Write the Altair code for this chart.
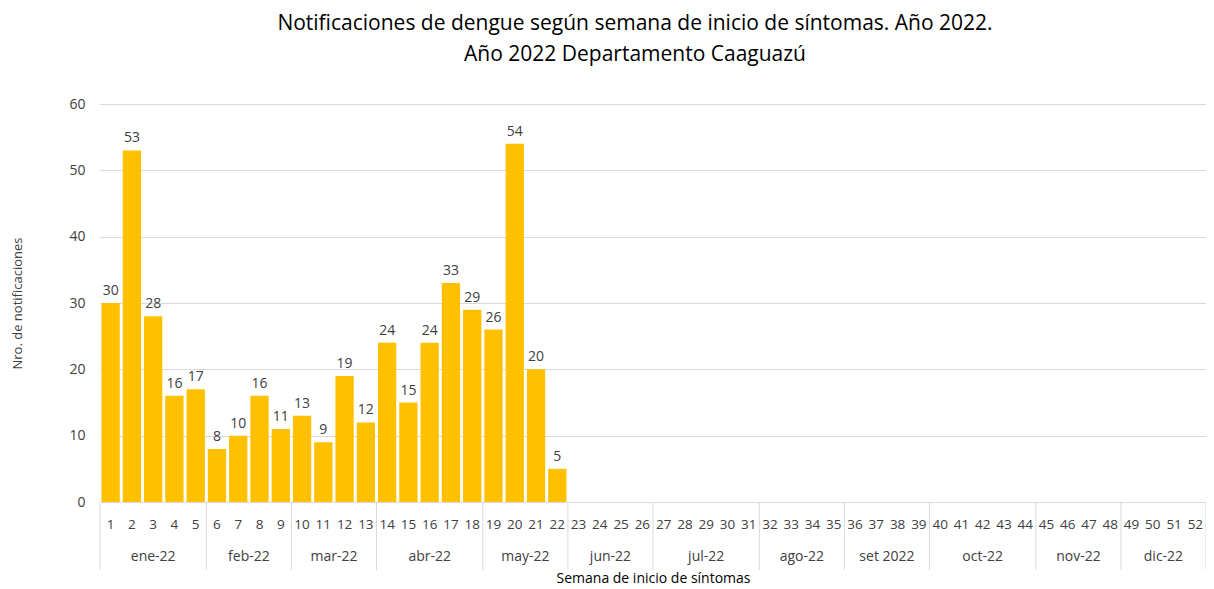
import altair as alt
import pandas as pd

weeks = list(range(1, 53))
cases = [30, 53, 28, 16, 17, 8, 10, 16, 11, 13, 9, 19, 12, 24, 15, 24, 33, 29, 26, 54, 20, 5]
months = ["ene-22", "feb-22", "mar-22", "abr-22", "may-22", "jun-22", "jul-22",
          "ago-22", "set 2022", "oct-22", "nov-22", "dic-22"]
month_first = [1, 6, 10, 14, 19, 23, 27, 32, 36, 40, 45, 49]
month_last = [5, 9, 13, 18, 22, 26, 31, 35, 39, 44, 48, 52]

W, H = 1106, 398
FONT = "Open Sans"

bars_df = pd.DataFrame({"semana": weeks[:len(cases)], "casos": cases})
weeks_df = pd.DataFrame({"semana": weeks})
month_df = pd.DataFrame({"mes": months, "ini": month_first, "fin": month_last})
sep_vals = [f - 0.5 for f in month_first] + [month_last[-1] + 0.5]
sep_df = pd.DataFrame({"sep": sep_vals})

xscale = alt.Scale(domain=[0.5, 52.5], nice=False, zero=False)
yscale = alt.Scale(domain=[0, 60])

x_axis = alt.Axis(labels=False, grid=False, ticks=False, domainColor="#d9d9d9",
                  title="Semana de inicio de síntomas", titleFont=FONT,
                  titleFontSize=14, titleFontWeight="normal", titleColor="#000000",
                  titleY=76, titleBaseline="middle")
y_axis = alt.Axis(values=[0, 10, 20, 30, 40, 50, 60], grid=True, gridColor="#d9d9d9",
                  domain=False, ticks=False, labelFont=FONT, labelFontSize=14,
                  labelColor="#404040", labelPadding=15,
                  title="Nro. de notificaciones", titleFont=FONT, titleFontSize=13,
                  titleFontWeight="normal", titleColor="#404040",
                  titleX=-83, titleY=H / 2, titleBaseline="middle")

base = alt.Chart(bars_df)

bars = base.transform_calculate(
    x0="datum.semana - 0.43", x1="datum.semana + 0.43"
).mark_bar(color="#FFC000").encode(
    x=alt.X("x0:Q", scale=xscale, axis=x_axis),
    x2="x1:Q",
    y=alt.Y("casos:Q", scale=yscale, axis=y_axis),
    y2=alt.datum(0),
)

labels = base.mark_text(font=FONT, fontSize=14, color="#404040", baseline="bottom", dy=-5).encode(
    x=alt.X("semana:Q", scale=xscale, axis=x_axis),
    y=alt.Y("casos:Q", scale=yscale, axis=y_axis),
    text=alt.Text("casos:Q", format="d"),
)

week_text = alt.Chart(weeks_df).mark_text(font=FONT, fontSize=13.5, color="#404040",
                                          baseline="middle").encode(
    x=alt.X("semana:Q", scale=xscale, axis=x_axis),
    y=alt.value(H + 23),
    text=alt.Text("semana:Q", format="d"),
)

seps = alt.Chart(sep_df).mark_rule(color="#d9d9d9", strokeWidth=1).encode(
    x=alt.X("sep:Q", scale=xscale, axis=x_axis),
    y=alt.value(H),
    y2=alt.value(H + 68),
)

month_text = alt.Chart(month_df).transform_calculate(
    mid="(datum.ini + datum.fin) / 2"
).mark_text(font=FONT, fontSize=14, color="#404040", baseline="middle").encode(
    x=alt.X("mid:Q", scale=xscale, axis=x_axis),
    y=alt.value(H + 55),
    text="mes:N",
)

chart = alt.layer(bars, labels, week_text, seps, month_text).properties(
    width=W, height=H,
    title=alt.TitleParams(
        text=["Notificaciones de dengue según semana de inicio de síntomas. Año 2022.",
              "Año 2022 Departamento Caaguazú"],
        font=FONT, fontSize=21, fontWeight="normal", color="#000000",
        anchor="middle", frame="group", dx=-18, offset=32, lineHeight=31,
    ),
    autosize=alt.AutoSizeParams(type="none"),
    padding={"left": 92, "top": 96, "right": 0, "bottom": 84},
).configure_view(stroke=None)

chart.save("out.html", embed_options={"renderer": "svg", "actions": False})
